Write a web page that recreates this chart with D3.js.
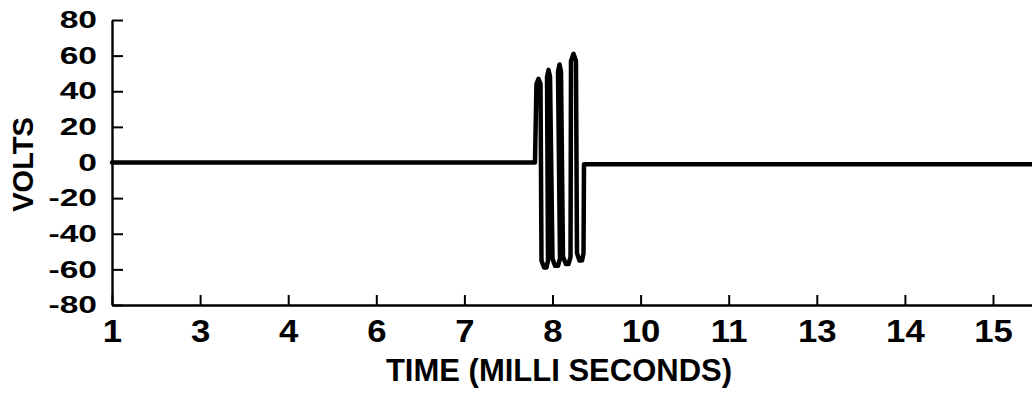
<!DOCTYPE html>
<html><head><meta charset="utf-8">
<script src="https://cdn.jsdelivr.net/npm/d3@7"></script>
<style>
body{margin:0;background:#fff}
svg{display:block}
text{font-family:"Liberation Sans",Arial,Helvetica,sans-serif;font-weight:bold;fill:#000}
</style>
</head><body>
<svg id="c" width="1032" height="394"></svg>
<script>
// ---- data ----
const xTickValues = [1, 3, 4, 6, 7, 8, 10, 11, 13, 14, 15];
const xEnd = 15.45;
const yTickValues = [-80, -60, -40, -20, 0, 20, 40, 60, 80];
const timeMs = [1, 7.801,
  7.818, 7.841, 7.864,
  7.875, 7.904, 7.932, 7.949,
  7.938, 7.955, 7.972,
  8.000, 8.057, 8.125, 8.170,
  8.125, 8.159, 8.193,
  8.238, 8.306, 8.363, 8.409,
  8.420, 8.477, 8.533,
  8.556, 8.613, 8.670, 8.704,
  8.715, 15.45];
const volts = [0, 0,
  44, 47, 44,
  -55, -59, -59, -55,
  48, 52, 48,
  -54, -58, -58, -54,
  51, 55, 51,
  -53, -57, -57, -53,
  57, 61, 57,
  -51, -55, -55, -51,
  -1, -1];
const xTitle = "TIME (MILLI SECONDS)";
const yTitle = "VOLTS";

// ---- layout ----
const mLeft = 112, mRight = 1032, mTop = 20, mBottom = 305, step = 88.1;
const svg = d3.select("#c");

const x = d3.scaleLinear()
  .domain([...xTickValues, xEnd])
  .range([...xTickValues.map((d, i) => mLeft + step * i), mRight]);
const y = d3.scaleLinear().domain([-80, 80]).range([mBottom, mTop]);

// x axis
const gx = svg.append("g").attr("transform", `translate(0,${mBottom})`)
  .call(d3.axisBottom(x).tickValues(xTickValues).tickFormat(d => String(d))
    .tickSize(-10).tickSizeOuter(0).tickPadding(15));
gx.select(".domain").attr("stroke", "#000").attr("stroke-width", 2.4);
gx.selectAll(".tick line").attr("stroke", "#000").attr("stroke-width", 2);
gx.selectAll(".tick text").attr("font-size", 31).attr("transform", "scale(1.12,1)");

// y axis
const gy = svg.append("g").attr("transform", `translate(${mLeft},0)`)
  .call(d3.axisLeft(y).tickValues(yTickValues).tickFormat(d => String(d))
    .tickSize(-11).tickSizeOuter(0));
gy.select(".domain").attr("stroke", "#000").attr("stroke-width", 2.4);
gy.selectAll(".tick line").attr("stroke", "#000").attr("stroke-width", 2);
gy.selectAll(".tick text").attr("font-size", 24).attr("x", 0)
  .attr("transform", "translate(-15,0) scale(1.4,1)");

// titles
svg.append("text").attr("x", 559).attr("y", 381).attr("text-anchor", "middle")
  .attr("font-size", 31).text(xTitle);
svg.append("text").attr("transform", "translate(33,164.5) rotate(-90)")
  .attr("text-anchor", "middle").attr("font-size", 29).text(yTitle);

// signal
const pts = timeMs.map((t, i) => [t, volts[i]]);
const line = d3.line().x(d => x(d[0])).y(d => y(d[1]));
svg.append("path").datum(pts).attr("d", line)
  .attr("fill", "none").attr("stroke", "#000").attr("stroke-width", 4.5)
  .attr("stroke-linejoin", "round").attr("stroke-linecap", "round");
</script>
</body></html>
